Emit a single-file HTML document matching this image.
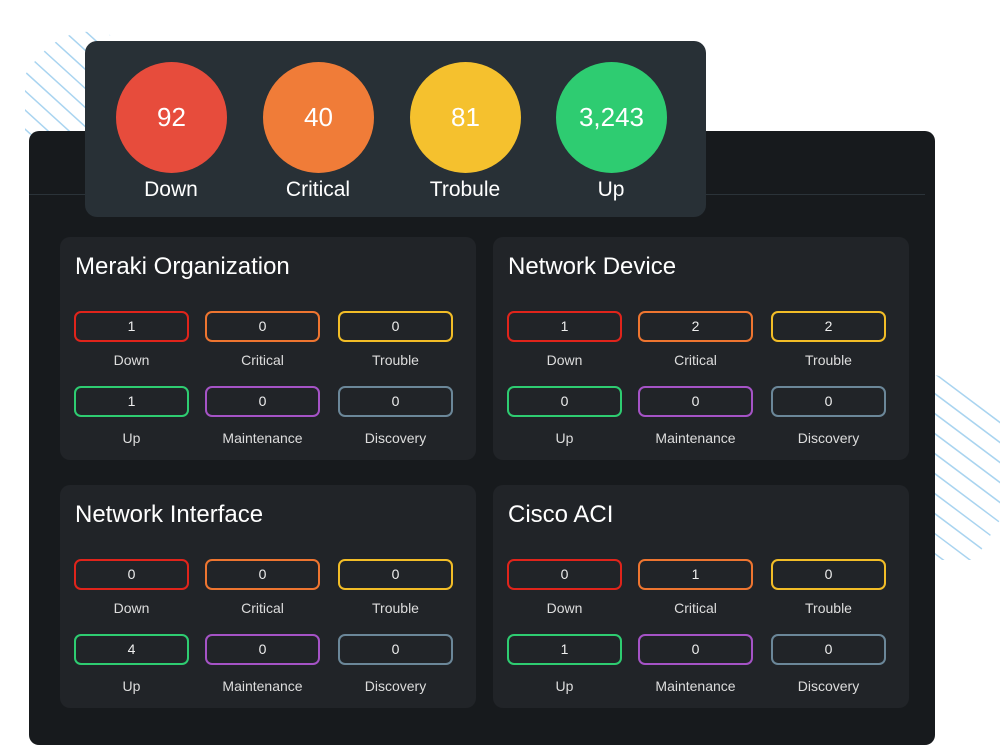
<!DOCTYPE html>
<html><head><style>
body{margin:0;width:1003px;height:748px;background:#fff;position:relative;overflow:hidden;font-family:"Liberation Sans",sans-serif}
.abs{position:absolute}
.outer{left:29px;top:131px;width:906px;height:614px;background:#171a1d;border-radius:10px}
.line{left:29px;top:194px;width:896px;height:1px;background:#2b3339}
.top{left:85px;top:41px;width:621px;height:176px;background:#283036;border-radius:12px}
.c{width:111px;height:111px;border-radius:50%;top:62px;color:#fff;font-size:26px;line-height:111px;text-align:center}
.cl{top:178px;width:140px;text-align:center;color:#fff;font-size:21px}
.card{background:#212428;border-radius:10px;width:416px;height:223px}
.card h2{position:absolute;left:15px;top:16px;margin:0;font-weight:normal;color:#fff;font-size:24px}
.p{position:absolute;width:111px;height:27px;border:2px solid;border-radius:7px;color:#eee;font-size:14px;line-height:27px;text-align:center}
.l{position:absolute;width:115px;text-align:center;color:#ddd;font-size:14px}
</style></head><body>
<svg class="abs" style="left:0;top:0" width="1003" height="748">
<defs><clipPath id="a"><path d="M25 75 Q60 20 110 35 L130 130 L25 135Z"/></clipPath>
<clipPath id="b"><path d="M935 375 L1000 390 L1000 520 L975 560 L935 560Z"/></clipPath></defs>
<g clip-path="url(#a)" stroke="#a9d4f0" stroke-width="1.5">
<line x1="0" y1="30" x2="110" y2="130"/><line x1="10" y1="20" x2="120" y2="120"/><line x1="20" y1="10" x2="130" y2="110"/><line x1="30" y1="0" x2="140" y2="100"/><line x1="40" y1="-10" x2="150" y2="90"/><line x1="50" y1="-20" x2="160" y2="80"/><line x1="60" y1="-30" x2="170" y2="70"/><line x1="-10" y1="40" x2="100" y2="140"/><line x1="-20" y1="50" x2="90" y2="150"/><line x1="-30" y1="60" x2="80" y2="160"/><line x1="-40" y1="70" x2="70" y2="170"/><line x1="-50" y1="80" x2="60" y2="180"/><line x1="-60" y1="90" x2="50" y2="190"/>
</g>
<g clip-path="url(#b)" stroke="#a9d4f0" stroke-width="1.5" fill="none">
<line x1="930" y1="370" x2="1010" y2="430"/><line x1="930" y1="390" x2="1010" y2="450"/><line x1="930" y1="410" x2="1010" y2="470"/><line x1="930" y1="430" x2="1010" y2="490"/><line x1="930" y1="450" x2="1010" y2="510"/><line x1="930" y1="470" x2="1010" y2="530"/><line x1="930" y1="490" x2="1010" y2="550"/><line x1="930" y1="510" x2="1010" y2="570"/><line x1="930" y1="530" x2="1010" y2="590"/><line x1="930" y1="550" x2="1010" y2="610"/>
</g>
</svg>
<div class="abs outer"></div>
<div class="abs line"></div>
<div class="abs top"></div>
<div class="abs c" style="left:116px;background:#e74c3c">92</div>
<div class="abs c" style="left:263px;background:#f07c38">40</div>
<div class="abs c" style="left:410px;background:#f5c12e">81</div>
<div class="abs c" style="left:556px;background:#2ecc71">3,243</div>
<div class="abs cl" style="left:101px">Down</div>
<div class="abs cl" style="left:248px">Critical</div>
<div class="abs cl" style="left:395px">Trobule</div>
<div class="abs cl" style="left:541px">Up</div>

<div class="abs card" style="left:60px;top:237px"><h2>Meraki Organization</h2>
<div class="p" style="left:14px;top:74px;border-color:#e0241b">1</div><div class="p" style="left:145px;top:74px;border-color:#ee7530">0</div><div class="p" style="left:278px;top:74px;border-color:#f2bd27">0</div>
<div class="l" style="left:14px;top:115px">Down</div><div class="l" style="left:145px;top:115px">Critical</div><div class="l" style="left:278px;top:115px">Trouble</div>
<div class="p" style="left:14px;top:149px;border-color:#2ecc71">1</div><div class="p" style="left:145px;top:149px;border-color:#a553c6">0</div><div class="p" style="left:278px;top:149px;border-color:#6b8799">0</div>
<div class="l" style="left:14px;top:193px">Up</div><div class="l" style="left:145px;top:193px">Maintenance</div><div class="l" style="left:278px;top:193px">Discovery</div></div>

<div class="abs card" style="left:493px;top:237px"><h2>Network Device</h2>
<div class="p" style="left:14px;top:74px;border-color:#e0241b">1</div><div class="p" style="left:145px;top:74px;border-color:#ee7530">2</div><div class="p" style="left:278px;top:74px;border-color:#f2bd27">2</div>
<div class="l" style="left:14px;top:115px">Down</div><div class="l" style="left:145px;top:115px">Critical</div><div class="l" style="left:278px;top:115px">Trouble</div>
<div class="p" style="left:14px;top:149px;border-color:#2ecc71">0</div><div class="p" style="left:145px;top:149px;border-color:#a553c6">0</div><div class="p" style="left:278px;top:149px;border-color:#6b8799">0</div>
<div class="l" style="left:14px;top:193px">Up</div><div class="l" style="left:145px;top:193px">Maintenance</div><div class="l" style="left:278px;top:193px">Discovery</div></div>

<div class="abs card" style="left:60px;top:485px"><h2>Network Interface</h2>
<div class="p" style="left:14px;top:74px;border-color:#e0241b">0</div><div class="p" style="left:145px;top:74px;border-color:#ee7530">0</div><div class="p" style="left:278px;top:74px;border-color:#f2bd27">0</div>
<div class="l" style="left:14px;top:115px">Down</div><div class="l" style="left:145px;top:115px">Critical</div><div class="l" style="left:278px;top:115px">Trouble</div>
<div class="p" style="left:14px;top:149px;border-color:#2ecc71">4</div><div class="p" style="left:145px;top:149px;border-color:#a553c6">0</div><div class="p" style="left:278px;top:149px;border-color:#6b8799">0</div>
<div class="l" style="left:14px;top:193px">Up</div><div class="l" style="left:145px;top:193px">Maintenance</div><div class="l" style="left:278px;top:193px">Discovery</div></div>

<div class="abs card" style="left:493px;top:485px"><h2>Cisco ACI</h2>
<div class="p" style="left:14px;top:74px;border-color:#e0241b">0</div><div class="p" style="left:145px;top:74px;border-color:#ee7530">1</div><div class="p" style="left:278px;top:74px;border-color:#f2bd27">0</div>
<div class="l" style="left:14px;top:115px">Down</div><div class="l" style="left:145px;top:115px">Critical</div><div class="l" style="left:278px;top:115px">Trouble</div>
<div class="p" style="left:14px;top:149px;border-color:#2ecc71">1</div><div class="p" style="left:145px;top:149px;border-color:#a553c6">0</div><div class="p" style="left:278px;top:149px;border-color:#6b8799">0</div>
<div class="l" style="left:14px;top:193px">Up</div><div class="l" style="left:145px;top:193px">Maintenance</div><div class="l" style="left:278px;top:193px">Discovery</div></div>
</body></html>
